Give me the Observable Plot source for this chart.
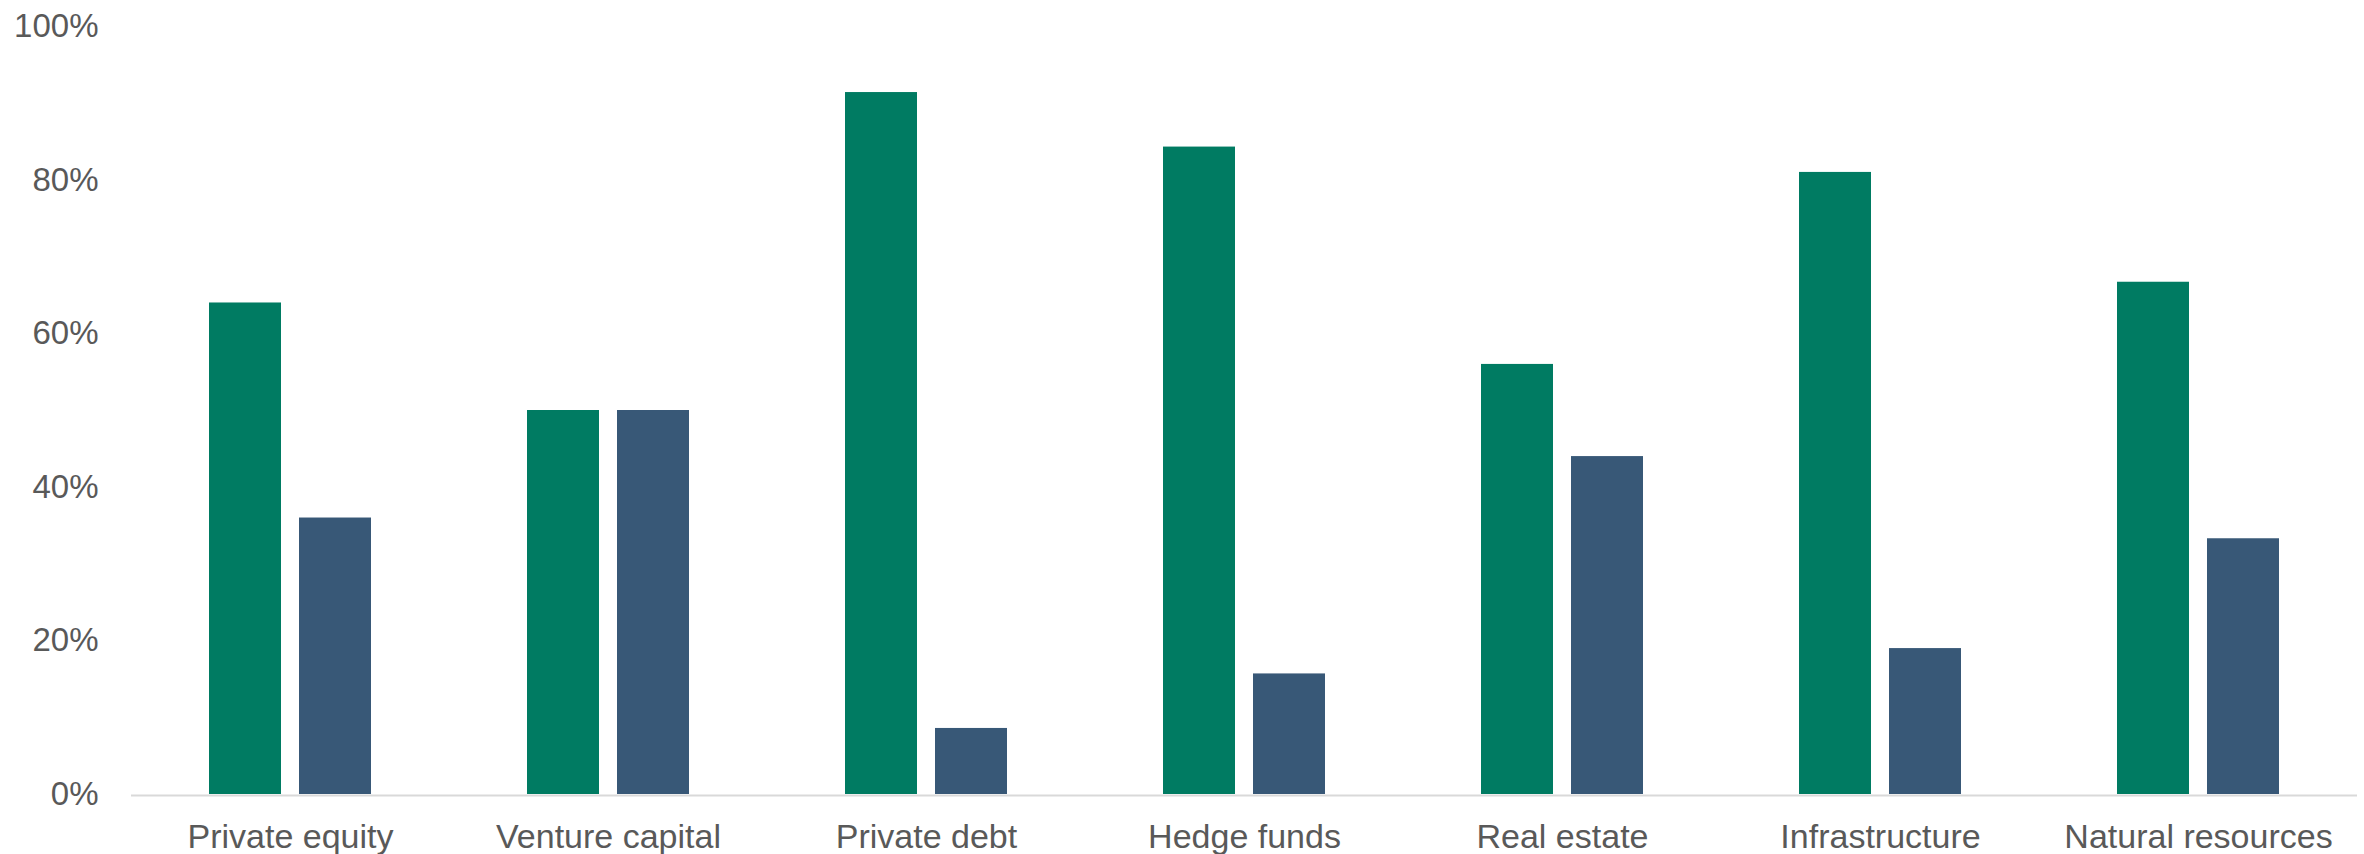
<!DOCTYPE html>
<html>
<head>
<meta charset="utf-8">
<script src="https://cdn.jsdelivr.net/npm/d3@7"></script>
<script src="https://cdn.jsdelivr.net/npm/@observablehq/plot@0.6"></script>
<style>
  html, body { margin: 0; padding: 0; background: #ffffff; }
  #chart svg { display: block; }
</style>
</head>
<body>
<div id="chart"></div>
<script>
const categories = ["Private equity", "Venture capital", "Private debt", "Hedge funds", "Real estate", "Infrastructure", "Natural resources"];
const seriesNames = ["Series 1", "Series 2"];
const series1 = [64, 50, 91.4, 84.3, 56, 81, 66.7];
const series2 = [36, 50, 8.6, 15.7, 44, 19, 33.3];
const yTicks = [0, 20, 40, 60, 80, 100];
const colors = ["#007b62", "#385877"];

const rows = [];
categories.forEach((c, i) => {
  rows.push({category: c, series: seriesNames[0], value: series1[i]});
  rows.push({category: c, series: seriesNames[1], value: series2[i]});
});

const chart = Plot.plot({
  width: 2364,
  height: 854,
  marginLeft: 131,
  marginRight: 7,
  marginTop: 26,
  marginBottom: 60,
  style: {fontFamily: "'Liberation Sans', Arial, sans-serif", background: "#ffffff"},
  fx: {domain: categories, paddingInner: 0.4906, paddingOuter: 0.2453, label: null},
  x: {domain: seriesNames, paddingInner: 0.2, paddingOuter: 0, axis: null},
  y: {domain: [0, 100], label: null},
  color: {domain: seriesNames, range: colors},
  marks: [
    Plot.ruleY([0], {stroke: "#d9d9d9", strokeWidth: 2, insetLeft: -78, insetRight: -78, dy: 1}),
    Plot.barY(rows, {fx: "category", x: "series", y: "value", fill: "series"}),
    Plot.axisY({ticks: yTicks, tickSize: 0, tickPadding: 111, tickFormat: d => d + "%", fontSize: 33, fill: "#595959", label: null}),
    Plot.axisFx({anchor: "bottom", tickSize: 0, tickPadding: 29, fontSize: 34, fill: "#595959", label: null})
  ]
});
document.getElementById("chart").appendChild(chart);
</script>
</body>
</html>
